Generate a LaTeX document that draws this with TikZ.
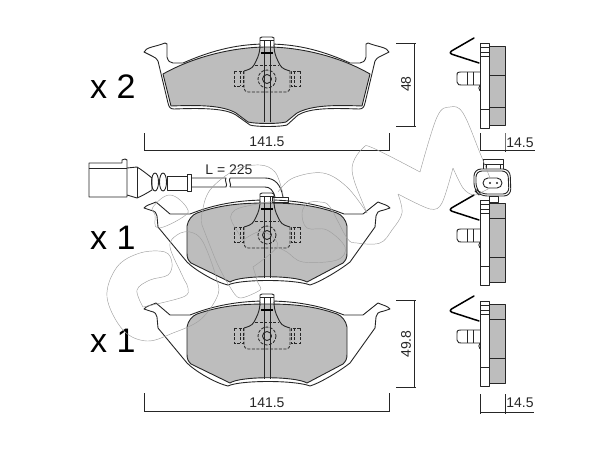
\documentclass[tikz,border=0pt]{standalone}
\usepackage{fontspec}
\setmainfont{Liberation Sans}
\definecolor{padgray}{HTML}{BDBDBD}
\definecolor{inkdark}{HTML}{262626}
\definecolor{logogray}{HTML}{A0A0A0}
\tikzset{
    ink/.style = {draw=inkdark, line width=0.9pt, line join=round},
    thickink/.style = {draw=black, line width=1.5pt, line join=round},
    hidden/.style = {draw=inkdark, line width=0.8pt, dash pattern=on 3pt off 1.5pt},
    lining/.style = {ink, fill=padgray},
    dimline/.style = {draw=inkdark, line width=0.8pt},
    dimtext/.style = {font=\fontsize{14}{14}\selectfont, text=inkdark, inner sep=0pt},
    counttext/.style = {font=\fontsize{34}{34}\selectfont, text=black, inner sep=0pt},
    logo/.style = {draw=logogray, line width=0.45pt, line join=round},
    % everything around the centre hole of a pad
    pics/padcore/.style = {code={
        \fill[white] (-7,-42) rectangle (7,-34);
        \draw[ink] (-7,-33) -- (-7,-41) -- (-5,-42) -- (5,-42) -- (7,-41) -- (7,-33);
        \draw[ink] (-7,-39) -- (7,-39);
        \draw[ink] (-7,-34) .. controls (-7,-24) and (-11,-18) .. (-13,-14) .. controls (-15,-10) and (-20,-9) .. (-23,-8);
        \draw[ink] (7,-34) .. controls (7,-24) and (11,-18) .. (13,-14) .. controls (15,-10) and (20,-9) .. (23,-8);
        \draw[hidden] (-12,-14) -- (12,-14);
        \draw[hidden, rounded corners=4pt] (-23,-8) -- (-23,13) -- (23,13) -- (23,-8);
        \draw[hidden] (-33,-8) rectangle (-24,7);
        \draw[hidden] (33,-8) rectangle (24,7);
        \draw[hidden] (-27,-8) -- (-27,7) (27,-8) -- (27,7);
        \draw[hidden] (0,0) circle[radius=9];
        \draw[ink] (0,0) circle[radius=4.5];
        \draw[ink] (-3,-39) -- (-3,43) (3,-39) -- (3,43);
        \draw[thickink] (-6,-26) -- (6,-26);
    }},
    % side view, #1 and #2 are the two slots of the lining
    pics/sideview/.style 2 args = {code={
        \draw[lining] (9,3) rectangle (25,82);
        \draw[ink] (9,#1) -- (25,#1) (9,#2) -- (25,#2);
        \draw[ink] (0,0) rectangle (9,85);
        \draw[ink] (0,4) -- (9,4) (0,9) -- (9,9) (0,13) -- (9,13) (0,66) -- (9,66);
        \draw[ink] (0,29) -- (-16,29) .. controls (-23,29) and (-23,29) .. (-23,33) -- (-23,39) .. controls (-23,42) and (-21,42) .. (-16,42) -- (0,42);
        \draw[ink] (-13,29) -- (-13,42) (-7,29) -- (-7,42);
        \draw[ink] (0,42) .. controls (-2,44) and (-1,46) .. (0,48);
        \draw[thickink, line cap=round, rounded corners=4pt] (-6,-5) -- (-32,10) -- (-1,20);
    }},
}
\begin{document}
\begin{tikzpicture}[x=1pt, y=-1pt]
\useasboundingbox (0,0) rectangle (600,450);
% top pad
\draw[ink] (152,56) -- (144,52) .. controls (146,47) and (155,47) .. (165,43) -- (167,44) -- (167,57) .. controls (168,61) and (170,63) .. (173,63) -- (183,63) .. controls (215,49) and (240,44) .. (267,44) .. controls (294,44) and (319,49) .. (350,63) -- (360,63) .. controls (363,63) and (365,61) .. (366,57) -- (366,44) -- (368,43) .. controls (378,47) and (387,47) .. (389,52) -- (381,56) .. controls (377,58) and (376,59) .. (375,61) -- (365,103) .. controls (364,107) and (363,109) .. (359,109) .. controls (330,108) and (310,108) .. (298,115) -- (287,125) .. controls (280,127) and (256,127) .. (250,125) -- (236,115) .. controls (225,108) and (200,108) .. (174,109) .. controls (170,109) and (169,107) .. (168,103) -- (158,61) .. controls (157,59) and (155,57) .. (152,56) -- cycle;
\draw[lining] (163,74) .. controls (195,56) and (235,47) .. (267,47) .. controls (299,47) and (339,56) .. (370,74) -- (362,106) .. controls (335,105) and (312,105) .. (297,113) -- (286,122) .. controls (278,124) and (256,124) .. (248,122) -- (236,113) .. controls (222,105) and (198,105) .. (171,106) -- cycle;
\pic at (267,79) {padcore};
% middle pad
\draw[ink] (150,210) -- (144,208) .. controls (146,205) and (152,204) .. (156,202) -- (170,214) -- (190,214) .. controls (215,204) and (240,200) .. (267,200) .. controls (294,200) and (319,204) .. (344,214) -- (363,214) -- (378,202) .. controls (382,204) and (388,205) .. (390,208) -- (384,210) .. controls (378,211) and (376,213) .. (376,216) -- (375,227) -- (350,262) .. controls (340,270) and (320,282) .. (310,285) .. controls (295,279) and (240,279) .. (228,285) .. controls (215,282) and (195,270) .. (187,262) -- (158,227) -- (157,216) .. controls (157,213) and (155,211) .. (150,210) -- cycle;
\draw[lining] (187,226) .. controls (188,220) and (192,215) .. (197,213) .. controls (220,205) and (240,203) .. (267,203) .. controls (294,203) and (314,205) .. (337,213) .. controls (342,215) and (346,220) .. (347,226) -- (347,253) .. controls (347,258) and (346,260) .. (343,263) -- (307,282) .. controls (295,275) and (240,275) .. (230,282) -- (191,263) .. controls (188,260) and (187,258) .. (187,253) -- cycle;
\pic at (267,235) {padcore};
\draw[ink] (272,197) rectangle (288,202);
% bottom pad
\draw[ink] (150,311) -- (144,309) .. controls (146,306) and (152,305) .. (156,303) -- (170,315) -- (190,315) .. controls (215,305) and (240,301) .. (267,301) .. controls (294,301) and (319,305) .. (344,315) -- (363,315) -- (378,303) .. controls (382,305) and (388,306) .. (390,309) -- (384,311) .. controls (378,312) and (376,314) .. (376,317) -- (375,328) -- (350,363) .. controls (340,371) and (320,383) .. (310,386) .. controls (295,380) and (240,380) .. (228,386) .. controls (215,383) and (195,371) .. (187,363) -- (158,328) -- (157,317) .. controls (157,314) and (155,312) .. (150,311) -- cycle;
\draw[lining] (187,327) .. controls (188,321) and (192,316) .. (197,314) .. controls (220,306) and (240,304) .. (267,304) .. controls (294,304) and (314,306) .. (337,314) .. controls (342,316) and (346,321) .. (347,327) -- (347,354) .. controls (347,359) and (346,361) .. (343,364) -- (307,383) .. controls (295,376) and (240,376) .. (230,383) -- (191,364) .. controls (188,361) and (187,359) .. (187,354) -- cycle;
\pic at (267,336) {padcore};
% side views
\pic at (480,43) {sideview={32}{64}};
\pic at (480,200) {sideview={18}{57}};
\pic at (480,301) {sideview={18}{57}};
% sensor plug on the middle side view
\draw[ink, fill=white] (483,159) -- (503,159) -- (503,170) -- (483,170) -- cycle;
\draw[ink] (483,164) -- (503,164) (486,164) -- (486,170) (500,164) -- (500,170);
\draw[ink, fill=white, rounded corners=7pt] (474,169) -- (510,169) -- (511,196) -- (480,196) -- (474,190) -- cycle;
\draw[ink, rounded corners=6pt] (476,171) -- (508,171) -- (509,194) -- (481,194) -- (476,189) -- cycle;
\draw[ink, rounded corners=5pt] (483,178) rectangle (502,188);
\fill[inkdark] (490,183) circle[radius=1.2] (497,183) circle[radius=1.2];
\draw[ink] (489,196) rectangle (498,202);
% sensor with cable
\draw[ink] (89,163) -- (122,163) -- (122,160) -- (125,159) -- (127,160) -- (127,197) -- (89,197) -- cycle;
\draw[ink] (89,168) -- (127,168);
\draw[ink] (127,168) -- (137,167) .. controls (142,170) and (147,174) .. (152,178) -- (152,190) .. controls (147,193) and (142,196) .. (137,198) -- (127,195);
\draw[ink] (137,167) -- (137,198);
\draw[ink] (155,182) ellipse[x radius=3.5, y radius=9];
\draw[ink] (163,182) ellipse[x radius=3.5, y radius=9];
\draw[ink] (167,176) rectangle (187,190);
\draw[ink] (187,174) rectangle (191,191);
\draw[ink] (191,178) -- (226,178) .. controls (224,181) and (228,184) .. (226,187) -- (191,187);
\draw[ink] (230,178) .. controls (228,181) and (232,184) .. (230,187);
\draw[ink] (230,178) -- (265,178) .. controls (275,178) and (281,185) .. (283,197);
\draw[ink] (230,187) -- (265,187) .. controls (270,187) and (273,190) .. (275,197);
\node[dimtext] (lengthlabel) at (229,170) {L = 225};
% dimensions
\coordinate (dimAl) at (144,150);
\coordinate (dimAr) at (389,150);
\draw[dimline] (144,133) -- (dimAl) -- (dimAr) -- (389,133);
\node[dimtext] (widthA) at (267,142) {141.5};
\coordinate (dimBt) at (414,43);
\coordinate (dimBb) at (414,126);
\draw[dimline] (396,43) -- (416,43) (dimBt) -- (dimBb) (396,126) -- (416,126);
\node[dimtext, rotate=90] (heightA) at (406,84) {48};
\coordinate (dimCl) at (480,150);
\coordinate (dimCr) at (505,150);
\draw[dimline] (480,133) -- (dimCl) -- (535,150) (505,133) -- (dimCr) -- (505,152);
\node[dimtext] (thickA) at (520,143) {14.5};
\coordinate (dimDl) at (144,411);
\coordinate (dimDr) at (389,411);
\draw[dimline] (144,393) -- (dimDl) -- (dimDr) -- (389,393);
\node[dimtext] (widthB) at (267,403) {141.5};
\coordinate (dimEt) at (414,300);
\coordinate (dimEb) at (414,387);
\draw[dimline] (396,300) -- (416,300) (dimEt) -- (dimEb) (396,387) -- (416,387);
\node[dimtext, rotate=90] (heightB) at (406,344) {49.8};
\coordinate (dimFl) at (480,412);
\coordinate (dimFr) at (505,412);
\draw[dimline] (480,394) -- (480,414) (dimFl) -- (534,412) (505,394) -- (505,414);
\node[dimtext] (thickB) at (520,403) {14.5};
% counts
\node[counttext, anchor=west] (countA) at (90,87) {x 2};
\node[counttext, anchor=west] (countB) at (90,238) {x 1};
\node[counttext, anchor=west] (countC) at (90,341) {x 1};
% logo outline
\draw[logo] plot[smooth, tension=.6] coordinates {(143,307) (137,290) (150,280) (168,275) (172,263) (165,252) (140,253) (117,267) (107,297) (123,330) (147,341) (173,333) (200,320) (217,297) (217,280) (203,242) (190,232) (177,235) (170,247) (183,277) (188,288) (183,297) (143,307)};
\draw[logo] plot[smooth cycle, tension=.7] coordinates {(153,207) (170,195) (187,208) (183,217) (158,228) (155,215)};
\draw[logo] plot[smooth, tension=.6] coordinates {(202,225) (202,213) (210,190) (235,170) (260,165) (275,172) (282,190) (283,197)};
\draw[logo] plot[smooth, tension=.6] coordinates {(280,200) (243,207) (232,213) (232,222) (243,240)};
\draw[logo] plot[smooth, tension=.6] coordinates {(243,240) (258,232) (270,235) (277,247) (253,267)};
\draw[logo] plot[smooth, tension=.5] coordinates {(253,267) (258,283) (260,290) (240,298) (230,287) (217,263) (202,225)};
\draw[logo] plot[smooth, tension=.6] coordinates {(278,192) (293,178) (323,173) (347,187) (367,213)};
\draw[logo] plot[smooth, tension=.6] coordinates {(367,213) (354,180) (353,163) (363,148) (373,148) (420,172)};
\draw[logo] plot[smooth, tension=.6] coordinates {(420,172) (437,117) (450,107) (463,113) (480,153) (490,178)};
\draw[logo] plot[smooth, tension=.6] coordinates {(490,188) (480,193) (473,195) (463,188) (453,168)};
\draw[logo] plot[smooth, tension=.5] coordinates {(453,168) (442,203) (430,209) (398,194)};
\draw[logo] plot[smooth, tension=.6] coordinates {(398,194) (402,213) (392,230) (380,243) (357,243) (347,238) (330,207) (320,202) (308,203) (302,213) (307,228) (327,230) (345,247) (337,260) (303,262) (287,252) (277,247)};
\end{tikzpicture}
\end{document}
